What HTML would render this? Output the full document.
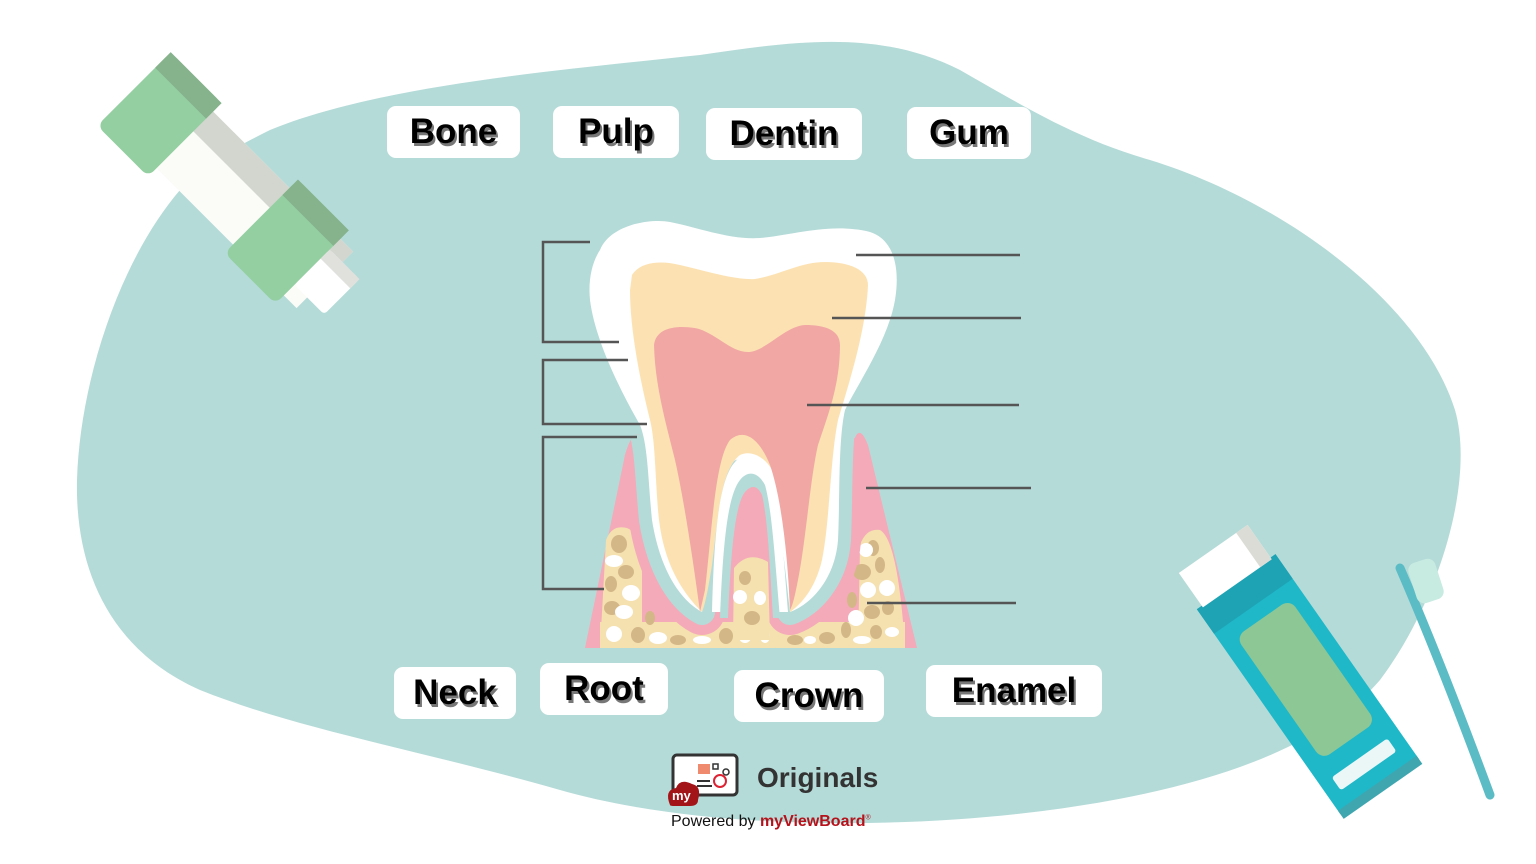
<!DOCTYPE html>
<html><head><meta charset="utf-8"><style>
html,body{margin:0;padding:0;background:#fff;}
body{width:1536px;height:864px;position:relative;overflow:hidden;font-family:"Liberation Sans",sans-serif;}
svg{position:absolute;left:0;top:0;}
.lb{position:absolute;background:#fff;border-radius:9px;font-weight:bold;font-size:35px;color:#000;text-align:center;text-shadow:2px 3px 0 #777;line-height:52px;}
.t{position:absolute;}
</style></head><body>
<svg width="1536" height="864" viewBox="0 0 1536 864">
<defs><clipPath id="gc"><path d="M585,648 L625,455 Q634,425 642,438 L855,438 Q860,425 868,445 L917,648 Z"/></clipPath></defs>
<path fill="#b4dbd8" d="M270,130 C380,85 560,70 700,55 C800,40 880,30 960,70 C1030,110 1080,140 1150,160 C1280,200 1420,300 1455,410 C1475,480 1440,600 1380,680 C1320,750 1200,790 1050,810 C900,830 700,830 560,790 C420,750 300,730 200,690 C110,650 75,570 77,480 C80,380 120,260 180,190 C210,160 240,145 270,130 Z"/>
<g transform="translate(240,195) rotate(-45)">
<rect x="-40" y="-120" width="80" height="240" fill="#fbfbf8"/>
<rect x="12" y="-120" width="28" height="240" fill="#d2d6cf"/>
<rect x="-52" y="-150" width="104" height="72" rx="8" fill="#94cfa1"/>
<rect x="30" y="-150" width="22" height="72" fill="#86b28c"/>
<rect x="-52" y="30" width="104" height="72" rx="8" fill="#94cfa1"/>
<rect x="30" y="30" width="22" height="72" fill="#86b28c"/>
<rect x="-25" y="102" width="50" height="42" rx="4" fill="#fff"/>
<rect x="12" y="102" width="13" height="42" fill="#e0e0dc"/>
</g>
<path fill="#f4aab8" d="M585,648 L625,455 Q634,425 642,438 L855,438 Q860,425 868,445 L917,648 Z"/>
<path fill="#f5e0b0" d="M600,648 L606,540 Q612,524 627,528 Q638,532 642,560 L642,648 Z"/>
<path fill="#f5e0b0" d="M858,648 L860,545 Q866,528 880,530 Q898,540 905,648 Z"/>
<rect x="600" y="622" width="305" height="26" fill="#f5e0b0"/>
<g fill="#d4b787">
<ellipse cx="619" cy="544" rx="8" ry="9"/><ellipse cx="626" cy="572" rx="8" ry="7"/><ellipse cx="611" cy="584" rx="6" ry="8"/><ellipse cx="612" cy="608" rx="8" ry="7"/><ellipse cx="638" cy="635" rx="7" ry="8"/><ellipse cx="650" cy="618" rx="5" ry="7"/><ellipse cx="678" cy="640" rx="8" ry="5"/><ellipse cx="726" cy="636" rx="7" ry="8"/><ellipse cx="795" cy="640" rx="8" ry="5"/><ellipse cx="827" cy="638" rx="8" ry="6"/><ellipse cx="862" cy="572" rx="9" ry="8"/><ellipse cx="880" cy="565" rx="5" ry="8"/><ellipse cx="873" cy="548" rx="6" ry="8"/><ellipse cx="852" cy="600" rx="5" ry="8"/><ellipse cx="872" cy="612" rx="8" ry="7"/><ellipse cx="888" cy="608" rx="6" ry="7"/><ellipse cx="876" cy="632" rx="6" ry="7"/><ellipse cx="846" cy="630" rx="5" ry="8"/>
</g>
<g fill="#fff">
<ellipse cx="614" cy="561" rx="9" ry="6"/><ellipse cx="631" cy="593" rx="9" ry="8"/><ellipse cx="624" cy="612" rx="9" ry="7"/><ellipse cx="614" cy="634" rx="8" ry="8"/><ellipse cx="658" cy="638" rx="9" ry="6"/><ellipse cx="702" cy="640" rx="9" ry="4"/><ellipse cx="745" cy="637" rx="6" ry="6"/><ellipse cx="765" cy="636" rx="5" ry="7"/><ellipse cx="810" cy="640" rx="6" ry="4"/><ellipse cx="866" cy="550" rx="7" ry="7"/><ellipse cx="887" cy="588" rx="8" ry="8"/><ellipse cx="868" cy="590" rx="8" ry="8"/><ellipse cx="856" cy="618" rx="8" ry="8"/><ellipse cx="892" cy="632" rx="7" ry="5"/><ellipse cx="862" cy="640" rx="9" ry="4"/>
</g>
<g clip-path="url(#gc)" fill="none" stroke-linejoin="round">
<path d="M600,250 C610,225 650,218 670,222 C700,228 730,240 760,238 C790,236 830,222 870,232 C895,240 900,270 895,300 C888,340 860,380 845,410 C838,440 840,500 838,540 C835,580 810,605 790,612 C785,570 780,500 760,470 C748,455 735,455 725,470 C710,500 710,570 702,612 C680,600 660,570 652,520 C648,480 648,445 640,425 C620,390 595,340 590,300 C588,280 592,262 600,250 Z" stroke="#f4aab8" stroke-width="46"/>
<path d="M600,250 C610,225 650,218 670,222 C700,228 730,240 760,238 C790,236 830,222 870,232 C895,240 900,270 895,300 C888,340 860,380 845,410 C838,440 840,500 838,540 C835,580 810,605 790,612 C785,570 780,500 760,470 C748,455 735,455 725,470 C710,500 710,570 702,612 C680,600 660,570 652,520 C648,480 648,445 640,425 C620,390 595,340 590,300 C588,280 592,262 600,250 Z" stroke="#b4dbd8" stroke-width="26"/>
</g>
<path fill="#fff" d="M600,250 C610,225 650,218 670,222 C700,228 730,240 760,238 C790,236 830,222 870,232 C895,240 900,270 895,300 C888,340 860,380 845,410 C838,440 840,500 838,540 C835,580 810,605 790,612 C785,570 780,500 760,470 C748,455 735,455 725,470 C710,500 710,570 702,612 C680,600 660,570 652,520 C648,480 648,445 640,425 C620,390 595,340 590,300 C588,280 592,262 600,250 Z"/>
<path fill="#fce2b3" d="M632,275 C640,262 660,260 680,265 C710,272 735,280 755,279 C780,275 800,262 825,262 C850,262 868,270 868,285 C866,330 850,380 838,420 C830,460 830,520 822,560 C815,590 800,605 790,612 C788,570 788,510 775,475 C765,455 750,450 740,455 C720,470 718,520 712,565 C708,590 705,605 702,612 C680,590 662,560 658,510 C655,470 655,440 650,420 C640,380 630,330 630,290 Z"/>
<path fill="#f1a8a4" d="M654,345 C656,328 675,325 695,328 C715,332 730,352 748,352 C765,352 785,326 805,325 C825,325 840,330 840,345 C840,385 828,415 818,445 C810,480 806,540 798,580 C795,595 793,605 790,610 C788,560 782,500 770,465 C760,440 745,427 730,440 C715,460 712,530 705,590 L700,612 C693,560 684,500 675,460 C665,420 655,385 654,345 Z"/>
<path fill="#fff" d="M712,612 C714,540 718,480 735,462 C745,450 758,452 768,465 C780,490 783,550 788,612 Z"/>
<path fill="#b4dbd8" d="M720,618 C723,540 728,495 740,480 C748,470 758,472 765,485 C772,510 775,560 780,618 Z"/>
<path fill="#f4aab8" d="M728,618 C731,550 735,505 745,492 C752,484 758,486 762,495 C768,520 770,570 773,618 Z"/>
<path fill="#f5e0b0" d="M733,640 L734,568 Q748,550 768,562 L770,640 Z"/>
<g fill="#d4b787"><ellipse cx="745" cy="578" rx="6" ry="7"/><ellipse cx="752" cy="618" rx="8" ry="7"/></g>
<g fill="#fff"><ellipse cx="740" cy="597" rx="7" ry="7"/><ellipse cx="760" cy="598" rx="6" ry="7"/></g>
<g stroke="#555" stroke-width="2.5" fill="none">
<path d="M590,242 H543 V342 H619"/><path d="M628,360 H543 V424 H647"/><path d="M637,437 H543 V589 H604"/>
<path d="M856,255 H1020"/><path d="M832,318 H1021"/><path d="M807,405 H1019"/><path d="M866,488 H1031"/><path d="M867,603 H1016"/>
</g>
<g transform="translate(1305,680) rotate(-35)">
<rect x="-48" y="-120" width="96" height="250" fill="#1fb8c9"/>
<rect x="-48" y="-120" width="96" height="30" fill="#1ea3b4"/>
<rect x="-32" y="-75" width="66" height="150" rx="10" fill="#8cc795"/>
<rect x="-34" y="95" width="68" height="16" rx="3" fill="#eaf7f6"/>
<rect x="-42" y="-160" width="84" height="42" fill="#fff"/>
<rect x="28" y="-160" width="14" height="42" fill="#dcdcd6"/>
<rect x="-48" y="126" width="96" height="10" fill="#3fa6b0"/>
</g>
<path d="M1400,568 Q1440,660 1490,795" stroke="#5bbcc6" stroke-width="9" fill="none" stroke-linecap="round"/>
<rect x="1412" y="560" width="28" height="42" rx="8" fill="#c8ebe1" transform="rotate(-18 1426 581)"/>
<rect x="673" y="755" width="64" height="40" rx="4" fill="#fff" stroke="#333" stroke-width="3"/>
<rect x="698" y="764" width="12" height="10" fill="#f08a6e"/>
<circle cx="720" cy="781" r="6" fill="none" stroke="#d23" stroke-width="2"/>
<rect x="713" y="764" width="5" height="5" fill="none" stroke="#333" stroke-width="1.5"/><circle cx="726" cy="772" r="3" fill="none" stroke="#333" stroke-width="1.5"/>
<path d="M697,781 H710 M697,786 H712" stroke="#333" stroke-width="2"/>
<path d="M670,805 Q664,790 676,788 Q680,778 692,784 Q702,786 698,800 Q698,806 690,806 H675 Q670,806 670,805 Z" fill="#a31419"/>
<text x="672" y="800" font-family="Liberation Sans" font-weight="bold" font-size="13" fill="#fff">my</text>
</svg>
<div class="lb" style="left:387px;top:106px;width:133px;">Bone</div>
<div class="lb" style="left:553px;top:106px;width:126px;">Pulp</div>
<div class="lb" style="left:706px;top:108px;width:156px;">Dentin</div>
<div class="lb" style="left:907px;top:107px;width:124px;">Gum</div>
<div class="lb" style="left:394px;top:667px;width:122px;">Neck</div>
<div class="lb" style="left:540px;top:663px;width:128px;">Root</div>
<div class="lb" style="left:734px;top:670px;width:150px;">Crown</div>
<div class="lb" style="left:926px;top:665px;width:176px;">Enamel</div>
<div class="t" style="left:757px;top:762px;font-size:28px;font-weight:bold;color:#333;">Originals</div>
<div class="t" style="left:671px;top:813px;font-size:16px;color:#111;">Powered by <span style="color:#b5121b;font-weight:bold;">myViewBoard</span><sup style="color:#b5121b;font-size:7px;">®</sup></div>
</body></html>
